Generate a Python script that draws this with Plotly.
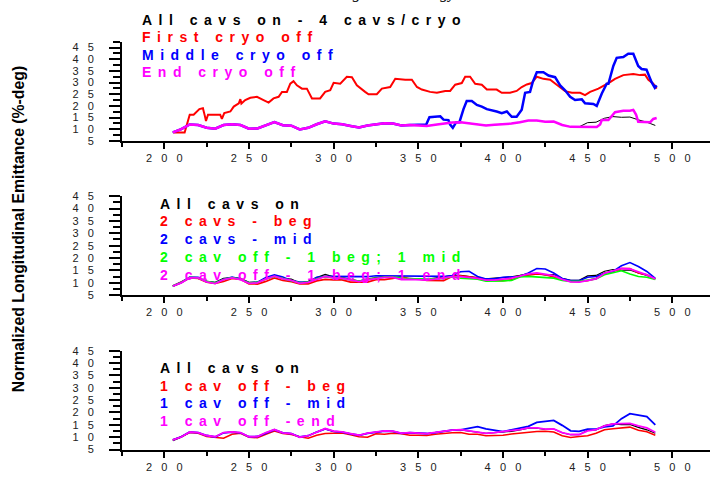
import plotly.graph_objects as go

W, H = 710, 479

# ---------------- data ----------------
x_grid = [205, 210, 215, 220, 225, 230, 235, 240, 245, 250, 255, 260, 265, 270, 275, 280,
          285, 290, 295, 300, 305, 310, 315, 320, 325, 330, 335, 340, 345, 350, 355, 360,
          365, 370, 375, 380, 385, 390, 395, 400, 405, 410, 415, 420, 425, 430, 435, 440,
          445, 450, 455, 460, 465, 470, 475, 480, 485, 490]

all_on = [8.6, 10.0, 12.0, 11.8, 10.6, 10.2, 11.8, 12.1, 11.8, 10.2, 10.3, 11.8, 13.0, 11.7, 11.5, 9.9,
          10.6, 12.1, 13.4, 12.4, 12.1, 11.4, 10.7, 11.6, 12.2, 12.5, 12.4, 11.6, 11.8, 11.6, 11.4, 11.9,
          12.4, 12.9, 13.0, 12.5, 12.0, 11.6, 11.9, 12.1, 12.4, 13.0, 13.7, 13.7, 13.2, 13.3, 11.8, 11.0,
          11.0, 12.8, 13.0, 14.7, 15.4, 15.1, 15.2, 14.0, 13.0, 11.6]

# Panel 1
first_cryo_x = [205.5, 212, 215, 217.3, 220.7, 222.8, 224, 224.6, 225.8, 233, 234, 235.4, 239, 241, 244,
                244.9, 245.5, 247.8, 250.8, 254.7, 258.6, 261.6, 264.5, 267.5, 269.5, 272.4, 274.4,
                276.3, 278.3, 281.3, 284.2, 287.2, 292, 295, 298, 300, 303.9, 307.8, 310.8, 313.7,
                318.6, 320.6, 325.5, 328.5, 333.4, 336.4, 342.3, 346.2, 349.2, 352.1, 357, 361, 365.9,
                368.8, 371.8, 375.7, 377.7, 380.6, 383.6, 387.5, 390.5, 396.3, 399.3, 404.2, 408.1,
                411.1, 414.1, 417, 420, 423.9, 427.9, 430.8, 433.8, 436.7, 440.7, 445.6, 448.5, 451.5,
                456.4, 460.3, 463.3, 466.2, 471.1, 477, 481, 483.9, 485.9, 488.8, 490.8]
first_cryo_y = [8.6, 8.6, 16.2, 16.2, 18.6, 19.0, 15.5, 13.5, 16.2, 16.2, 14.4, 16.9, 17.6, 19.7, 21.1,
                22.9, 21.0, 22.5, 23.5, 23.9, 22.5, 21.4, 23.2, 23.9, 26.0, 26.0, 29.5,
                30.6, 28.8, 27.4, 27.4, 23.2, 23.2, 26.0, 26.7, 29.9, 29.5, 32.5, 32.3, 28.8,
                26.0, 25.0, 25.0, 27.4, 28.1, 31.6, 31.2, 31.2, 28.1, 27.0, 26.0, 25.6, 26.4,
                26.4, 29.1, 29.8, 32.5, 32.5, 29.5, 29.1, 27.0, 27.0, 25.6, 25.6, 26.4,
                28.1, 29.2, 29.8, 32.5, 31.6, 31.2, 29.5, 28.1, 26.3, 25.6, 25.6, 24.6, 26.0,
                27.4, 28.8, 30.2, 31.6, 33.2, 33.7, 33.2, 33.4, 31.2, 29.5, 27.4]

middle_cryo_x = [205, 210, 215, 220, 225, 230, 235, 240, 245, 250, 255, 260, 265, 270, 275, 280,
                 285, 290, 295, 300, 305, 310, 315, 320, 325, 330, 335, 340, 345, 350, 354.7,
                 356.6, 363, 364.9, 367.8, 368.8, 370.4, 372.4, 374.3, 376.7, 378.6, 381.6, 384.6,
                 387.5, 390.5, 396.3, 399.3, 402.3, 405.2, 408.1, 411.1, 413.1, 416, 417.6, 420,
                 423.9, 426.9, 430.8, 433.8, 436.7, 439.7, 442.6, 446.6, 448.5, 453.4, 455.4, 458.4,
                 461.3, 462.3, 465.2, 467.2, 471.1, 474, 477, 479.9, 481.9, 484.8, 487.8, 489.7, 490.8]
middle_cryo_y = [8.6, 10.0, 12.0, 11.8, 10.6, 10.2, 11.8, 12.1, 11.8, 10.2, 10.3, 11.8, 13.0, 11.7, 11.5, 9.9,
                 10.6, 12.1, 13.4, 12.4, 12.1, 11.4, 10.7, 11.6, 12.2, 12.5, 12.4, 11.6, 11.8, 11.8, 12.0,
                 15.1, 15.5, 14.1, 13.9, 12.0, 10.6, 13.0, 13.0, 18.6, 22.1, 22.1, 20.4,
                 19.7, 18.6, 17.6, 16.9, 17.6, 15.3, 15.3, 18.3, 25.6, 26.0, 30.2, 34.4,
                 34.4, 33.0, 32.3, 28.8, 26.7, 23.9, 22.5, 22.8, 21.1, 20.8, 20.0, 25.3,
                 29.5, 29.5, 37.1, 40.6, 41.0, 42.4, 42.4, 37.1, 35.8, 35.5, 30.2, 27.8, 28.8]

end_cryo_x = [205, 210, 215, 220, 225, 230, 235, 240, 245, 250, 255, 260, 265, 270, 275, 280,
              285, 290, 295, 300, 305, 310, 315, 320, 325, 330, 335, 340, 345, 350, 355, 360,
              365, 370, 375, 380, 385, 390, 395, 400, 405, 410, 415, 420, 425, 430, 435, 440,
              445, 450, 455.4, 457.4, 458.4, 462.3, 466.2, 471.1, 475, 477, 478.6, 479.9, 484.8,
              487, 488.8, 490.8]
end_cryo_y = [8.6, 10.0, 12.0, 11.8, 10.6, 10.2, 11.8, 12.1, 11.8, 10.2, 10.3, 11.8, 13.0, 11.7, 11.5, 9.9,
              10.6, 12.1, 13.4, 12.4, 12.1, 11.4, 10.7, 11.6, 12.2, 12.5, 12.4, 11.6, 11.8, 11.6, 11.4, 11.9,
              12.4, 12.9, 13.0, 12.5, 12.0, 11.6, 11.9, 12.1, 12.4, 13.0, 13.7, 13.7, 13.2, 13.3, 11.8, 11.0,
              11.0, 11.0, 10.9, 12.0, 13.9, 13.9, 17.3, 17.9, 17.9, 18.3, 16.3, 13.2, 13.0,
              13.0, 14.4, 14.8]

# Panel 2
two_beg = [8.7, 10.2, 12.0, 11.8, 10.3, 9.8, 10.6, 11.8, 11.4, 9.6, 9.5, 10.6, 12.0, 11.0, 10.5, 9.6,
           9.6, 10.8, 11.4, 11.2, 11.2, 10.3, 10.3, 10.3, 11.3, 11.3, 11.8, 12.6, 11.6, 11.6, 11.0, 10.9,
           10.9, 12.6, 12.9, 12.5, 12.0, 11.5, 11.0, 10.9, 11.2, 12.6, 13.1, 13.6, 13.3, 12.4, 11.5, 10.6,
           10.6, 10.9, 11.8, 14.0, 14.6, 15.8, 15.8, 14.0, 13.3, 11.6]
two_mid = [8.7, 10.3, 12.3, 12.2, 10.5, 10.0, 11.5, 12.3, 11.6, 10.0, 10.3, 12.2, 13.2, 12.4, 10.9, 10.3,
           10.3, 12.3, 12.6, 12.6, 12.4, 12.3, 12.3, 12.5, 12.9, 12.9, 12.9, 12.7, 12.6, 12.6, 12.6, 12.6,
           12.6, 13.0, 14.5, 14.7, 12.6, 11.6, 11.6, 12.3, 12.3, 12.6, 14.0, 15.8, 15.6, 14.0, 11.8, 10.9,
           10.9, 12.3, 12.6, 13.9, 14.6, 16.9, 18.2, 16.6, 14.6, 11.8]
two_off_beg_mid = [8.7, 10.2, 12.2, 12.0, 10.6, 10.0, 11.4, 12.1, 11.5, 10.0, 10.2, 11.6, 12.6, 11.7, 11.0, 10.0,
                   10.3, 11.7, 12.6, 12.0, 11.8, 11.2, 10.7, 11.4, 12.0, 12.3, 12.3, 11.8, 11.6, 11.6, 11.5, 11.6,
                   11.8, 12.5, 11.9, 11.6, 11.5, 10.7, 10.6, 10.8, 11.0, 12.4, 12.6, 12.4, 12.3, 11.9, 11.0, 10.6,
                   10.6, 11.0, 11.6, 13.3, 14.0, 14.9, 13.6, 12.6, 12.3, 11.4]
two_off_beg_end = [8.7, 10.0, 12.1, 12.0, 10.4, 9.7, 11.3, 12.0, 11.3, 9.8, 10.0, 11.6, 12.7, 11.6, 11.0, 9.8,
                   10.2, 11.5, 12.6, 12.0, 11.8, 11.2, 10.5, 11.2, 11.8, 12.2, 12.2, 11.3, 11.4, 11.3, 11.1, 11.5,
                   12.0, 12.5, 12.5, 12.2, 11.8, 11.1, 11.1, 11.5, 11.9, 12.7, 13.6, 14.0, 13.4, 12.9, 11.4, 10.4,
                   10.3, 11.0, 11.6, 13.9, 15.0, 15.8, 15.6, 14.5, 13.2, 11.6]

# Panel 3
one_beg = [8.9, 10.2, 11.9, 11.6, 10.3, 9.9, 9.6, 11.2, 11.6, 10.0, 9.8, 11.2, 12.5, 11.5, 11.1, 10.2,
           9.6, 10.8, 11.5, 11.6, 11.7, 11.0, 10.2, 10.0, 11.4, 11.2, 11.6, 11.4, 10.8, 10.8, 10.7, 11.2,
           11.6, 11.8, 11.9, 11.2, 11.2, 10.6, 10.7, 10.8, 11.3, 11.6, 12.2, 12.3, 12.4, 12.1, 10.6, 9.9,
           10.3, 10.6, 11.6, 13.0, 13.4, 13.6, 14.1, 12.8, 12.2, 10.8]
one_mid = [8.9, 10.2, 12.1, 11.9, 10.7, 10.1, 11.8, 12.1, 11.8, 10.2, 10.3, 11.8, 13.0, 11.8, 11.5, 10.1,
           10.6, 12.1, 13.4, 12.4, 12.1, 11.4, 10.8, 11.6, 12.2, 12.5, 12.4, 11.6, 11.8, 11.6, 11.5, 11.9,
           12.4, 12.9, 13.0, 13.8, 14.3, 13.4, 12.7, 12.3, 13.0, 13.6, 14.4, 16.0, 16.3, 16.8, 14.8, 12.6,
           12.4, 13.3, 13.3, 14.2, 14.6, 17.5, 19.5, 19.0, 18.3, 15.0]
one_end = [8.9, 10.1, 12.1, 11.9, 10.7, 10.2, 11.9, 12.2, 11.9, 10.2, 10.3, 11.9, 13.1, 11.8, 11.5, 10.0,
           10.6, 12.2, 13.5, 12.5, 12.2, 11.5, 10.8, 11.7, 12.3, 12.6, 12.5, 11.7, 11.9, 11.6, 11.5, 12.0,
           12.5, 12.9, 13.1, 12.6, 12.1, 11.6, 11.9, 12.2, 12.5, 13.1, 13.8, 13.8, 13.3, 13.4, 11.9, 11.1,
           11.1, 12.6, 13.1, 14.6, 15.4, 15.6, 15.6, 14.6, 13.8, 12.0]

x_tick_vals = [200, 250, 300, 350, 400, 450, 500]
x_minor_vals = [175, 225, 275, 325, 375, 425, 475, 525]
y_tick_vals = [5, 10, 15, 20, 25, 30, 35, 40, 45]
y_minor_top = [7.5, 12.5, 17.5, 22.5, 27.5, 32.5, 37.5, 42.5, 47.5]
y_minor = [7.5, 12.5, 17.5, 22.5, 27.5, 32.5, 37.5, 42.5]

legend1 = ["All cavs on - 4 cavs/cryo", "First cryo off", "Middle cryo off", "End cryo off"]
legend2 = ["All cavs on", "2 cavs - beg", "2 cavs - mid", "2 cav off - 1 beg; 1 mid", "2 cav off - 1 beg; 1 end"]
legend3 = ["All cavs on", "1 cav off - beg", "1 cav off - mid", "1 cav off -end"]

# ---------------- style ----------------
BLACK, RED, BLUE, MAG, GREEN = "#000000", "#FF0000", "#0000FF", "#FF00FF", "#00FF00"
SP = "\u00a0\u00a0\u00a0"


def spaced(v):
    return SP.join(str(v))


def px_x(p):
    return p / W


def px_y(p):
    return 1 - p / H


fig = go.Figure()

# panel pixel geometry: (top px, bottom px, y range top)
panels = [(36.7, 138.3, 47.5), (195.0, 296.7, 45.0), (353.5, 455.0, 45.0)]

series = [
    [(x_grid, all_on, BLACK, 1.0), (first_cryo_x, first_cryo_y, RED, 2.0),
     (middle_cryo_x, middle_cryo_y, BLUE, 2.5), (end_cryo_x, end_cryo_y, MAG, 2.5)],
    [(x_grid, all_on, BLACK, 1.2), (x_grid, two_beg, RED, 1.6), (x_grid, two_mid, BLUE, 1.6),
     (x_grid, two_off_beg_mid, GREEN, 1.6), (x_grid, two_off_beg_end, MAG, 1.8)],
    [(x_grid, all_on, BLACK, 1.2), (x_grid, one_beg, RED, 1.6), (x_grid, one_mid, BLUE, 1.8),
     (x_grid, one_end, MAG, 1.8)],
]

axis_font = dict(family="Arial, Liberation Sans, sans-serif", size=11, color="#222222")

for i, ((top, bot, ytop), ser) in enumerate(zip(panels, series)):
    n = "" if i == 0 else str(i + 1)
    for xs, ys, col, lw in ser:
        fig.add_trace(go.Scatter(x=xs, y=ys, mode="lines", line=dict(color=col, width=lw),
                                 xaxis="x" + n, yaxis="y" + n, showlegend=False, hoverinfo="skip"))
    fig.layout["xaxis" + n] = dict(
        domain=[122 / W, 1.0], range=[175, 522.3], anchor="y" + n,
        showline=True, linecolor="black", linewidth=2, showgrid=False, zeroline=False,
        ticks="outside", ticklen=6, tickwidth=2, tickcolor="black",
        tickmode="array", tickvals=x_tick_vals, ticktext=[spaced(v) for v in x_tick_vals],
        minor=dict(tickmode="array", tickvals=x_minor_vals, ticks="outside", ticklen=4,
                   tickwidth=2, tickcolor="black"),
        tickfont=axis_font, ticklabelstandoff=0,
    )
    fig.layout["yaxis" + n] = dict(
        domain=[px_y(bot), px_y(top)], range=[5, ytop], anchor="x" + n,
        showline=True, linecolor="black", linewidth=2, showgrid=False, zeroline=False,
        ticks="outside", ticklen=11, tickwidth=2, tickcolor="black",
        tickmode="array", tickvals=y_tick_vals, ticktext=[spaced(v) for v in y_tick_vals],
        minor=dict(tickmode="array", tickvals=(y_minor_top if i == 0 else y_minor), ticks="outside",
                   ticklen=7, tickwidth=2, tickcolor="black"),
        tickfont=axis_font, ticklabelstandoff=13,
    )

LS = 6.5


def add_label(text, x_px, y_px, color):
    fig.add_annotation(
        xref="paper", yref="paper", x=px_x(x_px), y=px_y(y_px), xanchor="left", yanchor="middle",
        text='<span style="letter-spacing:%spx">%s</span>' % (LS, text), showarrow=False,
        font=dict(family="Arial, Liberation Sans, sans-serif", size=14, color=color, weight="bold"),
    )


for txt, yp, col in zip(legend1, [14, 32, 50, 68], [BLACK, RED, BLUE, MAG]):
    add_label(txt, 140, yp, col)
for txt, yp, col in zip(legend2, [203, 221, 239.2, 257.5, 276], [BLACK, RED, BLUE, GREEN, MAG]):
    add_label(txt, 158.3, yp, col)
for txt, yp, col in zip(legend3, [371, 389.3, 407.7, 425.3], [BLACK, RED, BLUE, MAG]):
    add_label(txt, 158.3, yp, col)

# Y axis title
fig.add_annotation(
    xref="paper", yref="paper", x=px_x(18), y=px_y(229), xanchor="center", yanchor="middle",
    text="Normalized Longitudinal Emittance (%-deg)", textangle=-90, showarrow=False,
    font=dict(family="Arial, Liberation Sans, sans-serif", size=15.8, color="black", weight="bold"),
)

# Title, mostly above the visible area (only descenders show)
fig.add_annotation(
    xref="paper", yref="paper", x=px_x(458), y=1 + 13.5 / H, xanchor="right", yanchor="middle",
    text="Emittance Tracking versus Energy", showarrow=False,
    font=dict(family="Liberation Serif, Times New Roman, serif", size=16, color="black", style="italic"),
)

fig.update_layout(
    width=W, height=H, margin=dict(l=0, r=0, t=0, b=0),
    paper_bgcolor="white", plot_bgcolor="white", showlegend=False,
)

fig.write_html("out.html", config={"displayModeBar": False},
               post_script="document.body.style.margin='0';")
